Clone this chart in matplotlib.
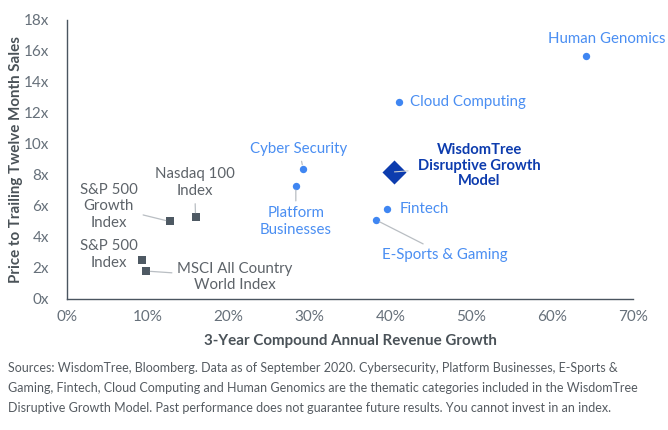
import matplotlib
matplotlib.use("Agg")
import matplotlib.pyplot as plt
from matplotlib.ticker import FuncFormatter

plt.rcParams['font.family'] = ['Lato', 'DejaVu Sans']

# Data
theme_names = ["Human Genomics", "Cloud Computing", "Cyber Security", "Platform\nBusinesses",
               "Fintech", "E-Sports & Gaming"]
theme_growth = [64.2, 41.1, 29.2, 28.3, 39.6, 38.2]
theme_ps = [15.7, 12.7, 8.4, 7.3, 5.8, 5.1]

index_names = ["S&P 500\nGrowth\nIndex", "Nasdaq 100\nIndex", "S&P 500\nIndex", "MSCI All Country\nWorld Index"]
index_growth = [12.7, 15.9, 9.3, 9.8]
index_ps = [5.0, 5.3, 2.5, 1.8]

model_name = "WisdomTree\nDisruptive Growth\nModel"
model_growth = [40.5]
model_ps = [8.2]

x_ticks = [0, 10, 20, 30, 40, 50, 60, 70]
y_ticks = [0, 2, 4, 6, 8, 10, 12, 14, 16, 18]

BLUE = "#3f86f2"
BLUE_TXT = "#4a8ef2"
DARK = "#0d3cae"
GRAY_SQ = "#4e5963"
GRAY_TXT = "#5d6369"
LINE = "#b9bec3"

fig = plt.figure(figsize=(6.68, 4.30), dpi=100)
ax = fig.add_axes([0.1003, 0.3047, 0.8473, 0.6488])

ax.scatter(theme_growth, theme_ps, s=28, color=BLUE, zorder=3, linewidths=0)
ax.scatter(index_growth, index_ps, s=38, color=GRAY_SQ, marker='s', zorder=3, linewidths=0)
ax.scatter(model_growth, model_ps, s=150, color=DARK, marker='D', zorder=3, linewidths=0)

ax.set_xlim(0, 70)
ax.set_ylim(0, 18)
ax.set_xticks(x_ticks)
ax.set_yticks(y_ticks)
ax.xaxis.set_major_formatter(FuncFormatter(lambda v, p: f"{int(v)}%"))
ax.yaxis.set_major_formatter(FuncFormatter(lambda v, p: f"{int(v)}x"))
ax.tick_params(length=0, labelsize=11, colors="#66707a")
ax.tick_params(axis='x', pad=8)
ax.tick_params(axis='y', pad=13)
for s in ['top', 'right']:
    ax.spines[s].set_visible(False)
for s in ['left', 'bottom']:
    ax.spines[s].set_color("#4a5560")
    ax.spines[s].set_linewidth(1.0)

ax.set_xlabel("3-Year Compound Annual Revenue Growth", fontsize=10.9, fontweight='bold',
              color="#4a5258", labelpad=7)
ax.set_ylabel("Price to Trailing Twelve Month Sales", fontsize=10.9, fontweight='bold',
              color="#4a5258")
ax.yaxis.set_label_coords(-0.077, 0.5)

def lab(text, x, y, dx, dy, color, ha='center', line=False, weight='normal', size=10.8,
        sa=2, sb=3):
    kw = dict(xy=(x, y), xytext=(dx, dy), textcoords='offset points', ha=ha, va='center',
              fontsize=size, color=color, fontweight=weight, linespacing=1.25, zorder=4)
    if line:
        kw['arrowprops'] = dict(arrowstyle='-', color=LINE, lw=0.9, shrinkA=sa, shrinkB=sb)
    ax.annotate(text, **kw)

# thematic labels
offs = [(15.1, 12.2, 'center', False), (7.9, 0, 'left', False), (-2.9, 14.4, 'center', True),
        (0, -25.9, 'center', True), (8.6, 0, 'left', False), (49.7, -25.2, 'center', True)]
for n, gx, py, (dx, dy, ha, ln) in zip(theme_names, theme_growth, theme_ps, offs):
    lab(n, gx, py, dx, dy, BLUE_TXT, ha=ha, line=ln)

# index labels
ioffs = [(-43.9, 10.8, True), (-0.7, 24.5, True), (-23.8, 4.3, False), (64, -4.3, True)]
for n, gx, py, (dx, dy, ln) in zip(index_names, index_growth, index_ps, ioffs):
    lab(n, gx, py, dx, dy, GRAY_TXT, line=ln)

ax.annotate(model_name, xy=(model_growth[0], model_ps[0]), xytext=(61, 4.5),
            textcoords='offset points', ha='center', va='center', fontsize=10.6,
            fontweight='bold', color=DARK, linespacing=1.15, zorder=4,
            arrowprops=dict(arrowstyle='-', color="#c8ccd0", lw=0.8, shrinkA=5, shrinkB=0))

foot = ("Sources: WisdomTree, Bloomberg. Data as of September 2020. Cybersecurity, Platform Businesses, E-Sports &\n"
        "Gaming, Fintech, Cloud Computing and Human Genomics are the thematic categories included in the WisdomTree\n"
        "Disruptive Growth Model. Past performance does not guarantee future results. You cannot invest in an index.")
fig.text(8 / 668, 1 - 362 / 430, foot, ha='left', va='top', fontsize=9, color="#555b61",
         linespacing=1.8)

fig.savefig("out.png", dpi=100, facecolor='white')
